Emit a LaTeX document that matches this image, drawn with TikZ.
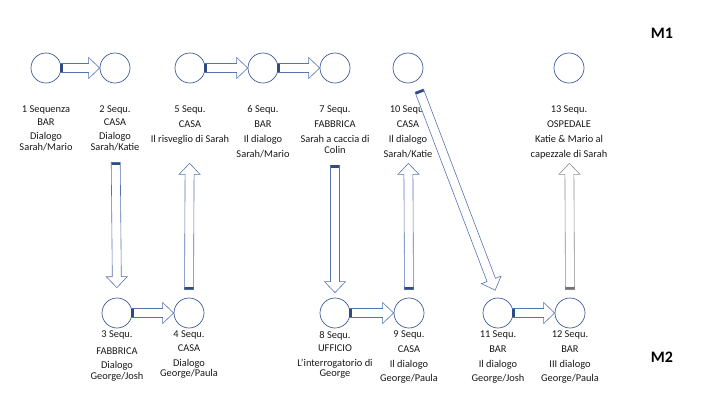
\documentclass[tikz,border=0pt]{standalone}
\usepackage{fontspec}
\setmainfont{Carlito}
\usetikzlibrary{calc,positioning}
\definecolor{ringblue}{HTML}{3E5C9A}
\definecolor{arrowblue}{HTML}{5573B0}
\definecolor{banddark}{HTML}{2F4A86}
\tikzset{
  seq/.style={circle, draw=ringblue, fill=white, line width=0.7pt, minimum size=30pt, inner sep=0pt},
  lbl/.style={align=center, inner sep=0pt, text=black!90, font=\fontsize{10.4}{11.5}\selectfont},
  mlabel/.style={inner sep=0pt, font=\fontsize{16}{19}\selectfont\bfseries},
  blockarrow/.style 2 args={draw=arrowblue, fill=white, line width=0.6pt, line join=miter,
    to path={let \p1=($(\tikztostart)!#1!(\tikztotarget)$), \p2=($(\tikztotarget)!#2!(\tikztostart)$),
      \p3=($(\p2)!11pt!(\p1)$) in
      ($(\p1)!4.5pt!90:(\p2)$) -- ($(\p3)!4.5pt!-90:(\p1)$) -- ($(\p3)!10.5pt!-90:(\p1)$) -- (\p2)
      -- ($(\p3)!10.5pt!90:(\p1)$) -- ($(\p3)!4.5pt!90:(\p1)$) -- ($(\p1)!4.5pt!-90:(\p2)$) -- cycle}},
  tailband/.style 2 args={fill=banddark,
    to path={let \p1=($(\tikztostart)!#1!(\tikztotarget)$), \p2=($(\tikztotarget)!#2!(\tikztostart)$),
      \p3=($(\p1)!2.5pt!(\p2)$) in
      ($(\p1)!4.2pt!90:(\p2)$) -- ($(\p3)!4.2pt!-90:(\p1)$) -- ($(\p3)!4.2pt!90:(\p1)$) -- ($(\p1)!4.2pt!-90:(\p2)$) -- cycle}}
}
\begin{document}
\begin{tikzpicture}[x=1pt, y=-1pt]
\useasboundingbox (0,0) rectangle (713,392);
% ---- sequences ----
\foreach \n/\x/\y in {1/46/68, 2/115/68, 5/190/68, 6/263/68, 7/335/68, 10/408/68, 13/569/68,
                      3/117/313, 4/189/313, 8/335/313, 9/409/313, 11/498/313, 12/570/313}
  \node[seq] (c\n) at (\x,\y) {};
% ---- labels M1 ----
\node[lbl, below=22pt of c1] (l1) {1 Sequenza\\[2pt] BAR\\[2pt] Dialogo\\ Sarah/Mario};
\node[lbl, below=22pt of c2] (l2) {2 Sequ.\\[2pt] CASA\\[2pt] Dialogo\\ Sarah/Katie};
\node[lbl, below=22pt of c5] (l5) {5 Sequ.\\[3.5pt] CASA\\[3.5pt] Il risveglio di Sarah};
\node[lbl, below=22pt of c6] (l6) {6 Sequ.\\[3.5pt] BAR\\[3.5pt] Il dialogo\\[3.5pt] Sarah/Mario};
\node[lbl, below=22pt of c7] (l7) {7 Sequ.\\[3.5pt] FABBRICA\\[3.5pt] Sarah a caccia di\\ Colin};
\node[lbl, below=22pt of c10] (l10) {10 Sequ.\\[3.5pt] CASA\\[3.5pt] Il dialogo\\[3.5pt] Sarah/Katie};
\node[lbl, below=22pt of c13] (l13) {13 Sequ.\\[3.5pt] OSPEDALE\\[3.5pt] Katie \& Mario al\\[3.5pt] capezzale di Sarah};
% ---- labels M2 ----
\node[lbl, below=2.5pt of c3] (l3) {3 Sequ.\\[5pt] FABBRICA\\[2.5pt] Dialogo\\ George/Josh};
\node[lbl, below=2.5pt of c4] (l4) {4 Sequ.\\[2.5pt] CASA\\[3.5pt] Dialogo\\[-2pt] George/Paula};
\node[lbl, below=2.5pt of c8] (l8) {8 Sequ.\\[1.5pt] UFFICIO\\[3.5pt] L'interrogatorio di\\[-1pt] George};
\node[lbl, below=2.5pt of c9] (l9) {9 Sequ.\\[3.5pt] CASA\\[3.5pt] Il dialogo\\[2.5pt] George/Paula};
\node[lbl, below=2.5pt of c11] (l11) {11 Sequ.\\[3.5pt] BAR\\[3.5pt] Il dialogo\\[2.5pt] George/Josh};
\node[lbl, below=2.5pt of c12] (l12) {12 Sequ.\\[3.5pt] BAR\\[3.5pt] III dialogo\\[2.5pt] George/Paula};
\node[mlabel] (m1) at (662,33) {M1};
\node[mlabel] (m2) at (662,357) {M2};
% ---- block arrows ----
\foreach \a/\b/\g/\h in {c1.east/c2.west/-1pt/0pt, c5.east/c6.west/-1pt/0pt, c6.east/c7.west/-1pt/0pt,
    c3.east/c4.west/-1pt/0pt, c8.east/c9.west/-1pt/0pt, c11.east/c12.west/-1pt/0pt,
    c2.south/c3.north/79pt/10pt, c4.north/c5.south/8pt/80pt, c7.south/c8.north/82pt/5pt,
    c9.north/c10.south/8pt/80pt, c10.-60/c11.north/10pt/8pt} {
  \draw[blockarrow={\g}{\h}] (\a) to (\b);
  \fill[tailband={\g}{\h}] (\a) to (\b);
}
\draw[blockarrow={8pt}{80pt}, draw=black!45] (c12.north) to (c13.south);
\fill[tailband={8pt}{80pt}, fill=black!55] (c12.north) to (c13.south);
\end{tikzpicture}
\end{document}
